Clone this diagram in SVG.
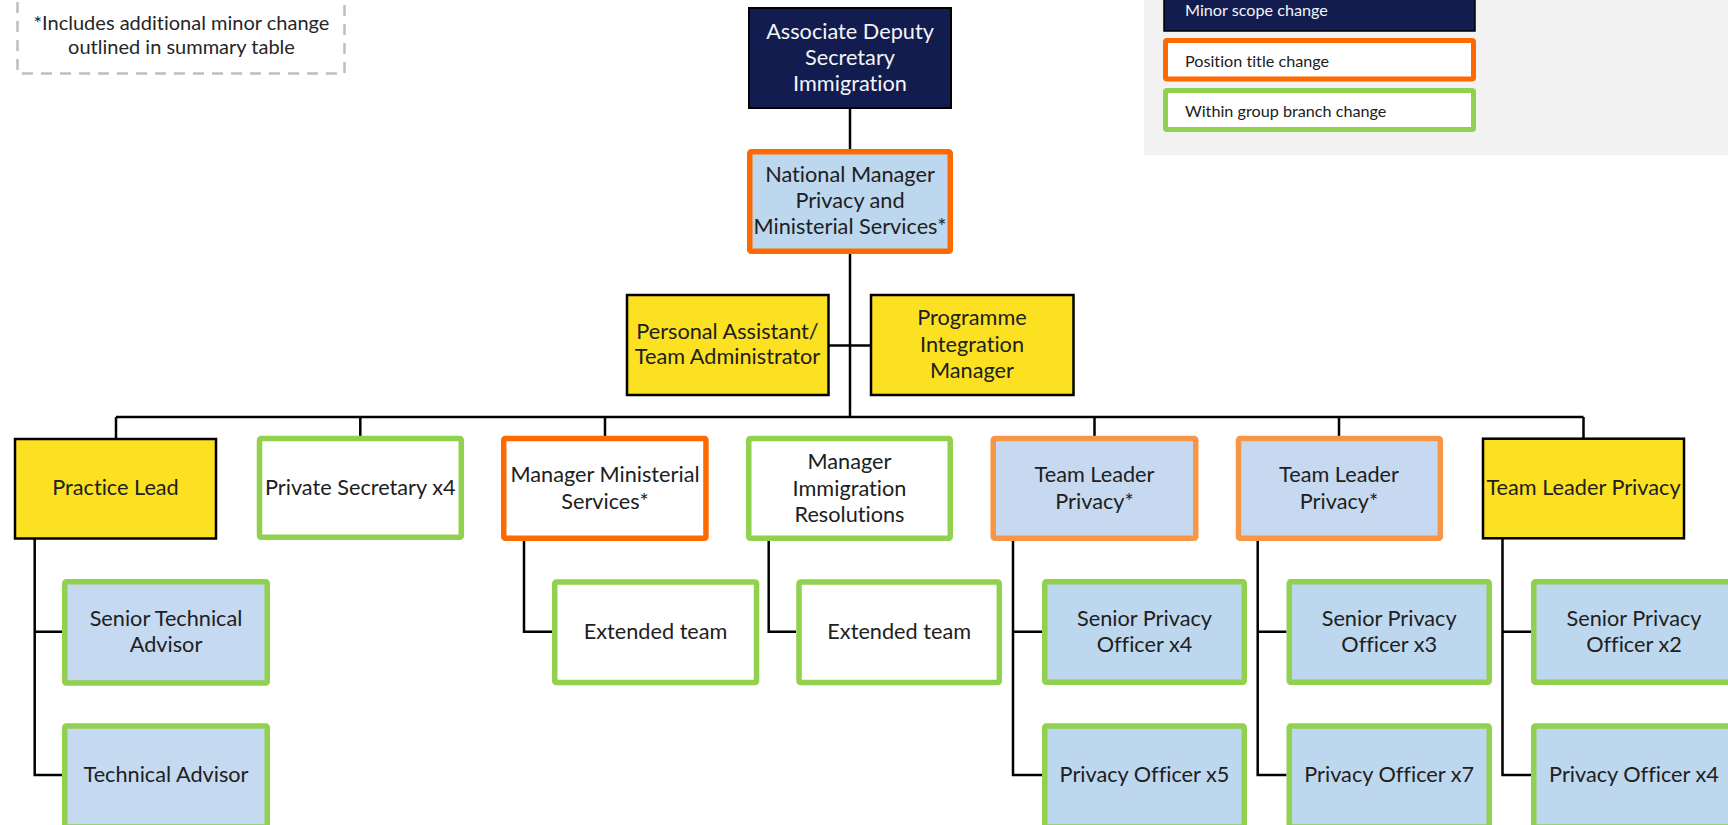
<svg xmlns="http://www.w3.org/2000/svg" width="1728" height="825" viewBox="0 0 1728 825">
  <style>
    text { font-family: Lato, "Liberation Sans", sans-serif; fill: #202020; font-variant-ligatures: none; }
    .t { font-size: 21.7px; text-anchor: middle; }
    .tw { font-size: 21.7px; text-anchor: middle; fill: #f4f4f8; }
    .note { font-size: 20px; text-anchor: middle; fill: #262626; }
    .lg { font-size: 16.2px; }
    .lgw { font-size: 16.2px; fill: #f4f4f8; }
    .navy { fill: #121c4e; stroke: #000000; stroke-width: 2; }
    .yel { fill: #fbe122; stroke: #000000; stroke-width: 2.5; }
    .org { fill: #bdd7ee; stroke: #ff6a00; stroke-width: 5.5; }
    .orgw { fill: #ffffff; stroke: #ff6a00; stroke-width: 5.5; }
    .lorg { fill: #c6d9f0; stroke: #f79646; stroke-width: 5.5; }
    .grw { fill: #ffffff; stroke: #92d050; stroke-width: 5.5; }
    .grb { fill: #bdd7ee; stroke: #92d050; stroke-width: 5.5; }
    .grl { fill: #c5d9f1; stroke: #92d050; stroke-width: 5.5; }
    .conn { fill: none; stroke: #000000; stroke-width: 2.5; }
  </style>

  <!-- footnote -->
  <g id="footnote">
    <rect x="17.5" y="-10" width="327" height="83.5" fill="none" stroke="#bfbfbf" stroke-width="2.5" stroke-dasharray="11 8"/>
    <text class="note" x="181.5" y="30">*Includes additional minor change</text>
    <text class="note" x="181.5" y="54">outlined in summary table</text>
  </g>

  <!-- legend -->
  <g id="legend">
    <rect x="1144" y="0" width="584" height="155" fill="#f2f2f2"/>
    <rect x="1164" y="-12" width="311" height="43" fill="#121c4e" stroke="#000000" stroke-width="1.5"/>
    <text class="lgw" x="1185" y="16">Minor scope change</text>
    <rect x="1165.5" y="40.5" width="308" height="38.5" rx="1.5" fill="#ffffff" stroke="#ff6a00" stroke-width="5"/>
    <text class="lg" x="1185" y="66.5">Position title change</text>
    <rect x="1165.5" y="90.5" width="308" height="39" rx="1.5" fill="#ffffff" stroke="#92d050" stroke-width="5"/>
    <text class="lg" x="1185" y="116.5">Within group branch change</text>
  </g>

  <!-- connectors -->
  <g id="connectors" class="conn">
    <path d="M850 109 V149"/>
    <path d="M850 254 V417"/>
    <path d="M829 345.5 H870"/>
    <path d="M116 417 H1583.5"/>
    <path d="M116 417 V438"/>
    <path d="M360.3 417 V436"/>
    <path d="M605 417 V436"/>
    <path d="M1094.5 417 V436"/>
    <path d="M1339 417 V436"/>
    <path d="M1583.5 417 V438"/>
    <path d="M34.7 539 V775 H62 M34.7 631.7 H62"/>
    <path d="M524 541 V631.7 H552"/>
    <path d="M768.7 541 V631.7 H796"/>
    <path d="M1013 541 V775 H1042 M1013 631.7 H1042"/>
    <path d="M1257.7 541 V775 H1286.5 M1257.7 631.7 H1286.5"/>
    <path d="M1502.5 539 V775 H1531 M1502.5 631.7 H1531"/>
  </g>

  <!-- top tier -->
  <g id="associate-deputy-secretary">
    <rect class="navy" x="749" y="8" width="202" height="100"/>
    <text class="tw" x="850" y="38.5">Associate Deputy</text>
    <text class="tw" x="850" y="64.5">Secretary</text>
    <text class="tw" x="850" y="91">Immigration</text>
  </g>

  <g id="national-manager">
    <rect class="org" x="749.75" y="151.75" width="200.5" height="99.5" rx="1.5"/>
    <text class="t" x="850" y="181.7">National Manager</text>
    <text class="t" x="850" y="208.3">Privacy and</text>
    <text class="t" x="850" y="234.3">Ministerial Services*</text>
  </g>

  <g id="personal-assistant">
    <rect class="yel" x="627" y="295" width="201.5" height="100"/>
    <text class="t" x="727.5" y="339.3">Personal Assistant/</text>
    <text class="t" x="727.5" y="364.3">Team Administrator</text>
  </g>

  <g id="programme-integration-manager">
    <rect class="yel" x="871" y="295" width="202.5" height="100"/>
    <text class="t" x="972" y="325">Programme</text>
    <text class="t" x="972" y="351.7">Integration</text>
    <text class="t" x="972" y="377.7">Manager</text>
  </g>

  <!-- second tier -->
  <g id="practice-lead">
    <rect class="yel" x="15" y="439" width="201" height="99.5"/>
    <text class="t" x="115.5" y="495">Practice Lead</text>
  </g>

  <g id="private-secretary">
    <rect class="grw" x="259.5" y="438.5" width="201.8" height="98.8" rx="1.5"/>
    <text class="t" x="360.3" y="495">Private Secretary x4</text>
  </g>

  <g id="manager-ministerial-services">
    <rect class="orgw" x="503.75" y="438.5" width="202.2" height="99.8" rx="1.5"/>
    <text class="t" x="605" y="481.7">Manager Ministerial</text>
    <text class="t" x="605" y="509">Services*</text>
  </g>

  <g id="manager-immigration-resolutions">
    <rect class="grw" x="748.75" y="438.5" width="201.5" height="99.8" rx="1.5"/>
    <text class="t" x="849.5" y="469.3">Manager</text>
    <text class="t" x="849.5" y="496">Immigration</text>
    <text class="t" x="849.5" y="521.7">Resolutions</text>
  </g>

  <g id="team-leader-privacy-1">
    <rect class="lorg" x="993.25" y="438.5" width="202.5" height="99.8" rx="1.5"/>
    <text class="t" x="1094.5" y="481.7">Team Leader</text>
    <text class="t" x="1094.5" y="509">Privacy*</text>
  </g>

  <g id="team-leader-privacy-2">
    <rect class="lorg" x="1238.5" y="438.5" width="201.8" height="99.8" rx="1.5"/>
    <text class="t" x="1339" y="481.7">Team Leader</text>
    <text class="t" x="1339" y="509">Privacy*</text>
  </g>

  <g id="team-leader-privacy-3">
    <rect class="yel" x="1483" y="438.7" width="201" height="99.6"/>
    <text class="t" x="1583.5" y="495">Team Leader Privacy</text>
  </g>

  <!-- third tier -->
  <g id="senior-technical-advisor">
    <rect class="grl" x="64.75" y="581.75" width="202.5" height="101.2" rx="1.5"/>
    <text class="t" x="166" y="625.5">Senior Technical</text>
    <text class="t" x="166" y="652">Advisor</text>
  </g>

  <g id="technical-advisor">
    <rect class="grl" x="64.75" y="726" width="202.5" height="101" rx="1.5"/>
    <text class="t" x="166" y="782">Technical Advisor</text>
  </g>

  <g id="extended-team-1">
    <rect class="grw" x="554.75" y="582" width="201.8" height="100.6" rx="1.5"/>
    <text class="t" x="655.6" y="639.3">Extended team</text>
  </g>

  <g id="extended-team-2">
    <rect class="grw" x="799" y="582" width="200.3" height="100.6" rx="1.5"/>
    <text class="t" x="899.2" y="639.3">Extended team</text>
  </g>

  <g id="senior-privacy-officer-x4">
    <rect class="grb" x="1044.75" y="581.75" width="199.5" height="100.5" rx="1.5"/>
    <text class="t" x="1144.5" y="625.5">Senior Privacy</text>
    <text class="t" x="1144.5" y="652">Officer x4</text>
  </g>

  <g id="privacy-officer-x5">
    <rect class="grb" x="1044.75" y="726" width="199.5" height="101" rx="1.5"/>
    <text class="t" x="1144.5" y="782">Privacy Officer x5</text>
  </g>

  <g id="senior-privacy-officer-x3">
    <rect class="grb" x="1289.25" y="581.75" width="200" height="100.5" rx="1.5"/>
    <text class="t" x="1389.2" y="625.5">Senior Privacy</text>
    <text class="t" x="1389.2" y="652">Officer x3</text>
  </g>

  <g id="privacy-officer-x7">
    <rect class="grb" x="1289.25" y="726" width="200" height="101" rx="1.5"/>
    <text class="t" x="1389.2" y="782">Privacy Officer x7</text>
  </g>

  <g id="senior-privacy-officer-x2">
    <rect class="grb" x="1533.75" y="581.75" width="200.5" height="100.5" rx="1.5"/>
    <text class="t" x="1634" y="625.5">Senior Privacy</text>
    <text class="t" x="1634" y="652">Officer x2</text>
  </g>

  <g id="privacy-officer-x4">
    <rect class="grb" x="1533.75" y="726" width="200.5" height="101" rx="1.5"/>
    <text class="t" x="1634" y="782">Privacy Officer x4</text>
  </g>
</svg>
